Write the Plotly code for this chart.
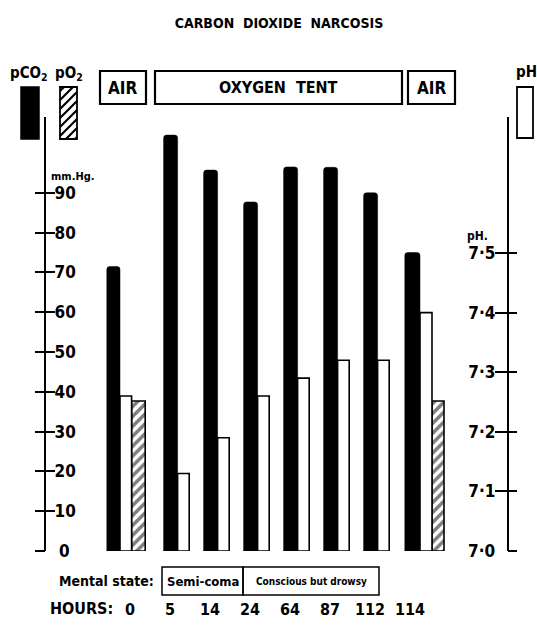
import plotly.graph_objects as go

# ---------------- data ----------------
hours = ["0", "5", "14", "24", "64", "87", "112", "114"]
pco2_mmhg = [71.5, 104.5, 95.7, 87.7, 96.5, 96.4, 90.0, 75.0]
ph_values = [7.26, 7.13, 7.19, 7.26, 7.29, 7.32, 7.32, 7.40]
po2_mmhg = [37.7, None, None, None, None, None, None, 37.7]
mmhg_ticks = [0, 10, 20, 30, 40, 50, 60, 70, 80, 90]
ph_ticks = [7.0, 7.1, 7.2, 7.3, 7.4, 7.5]
ph_ticklabels = ["7·0", "7·1", "7·2", "7·3", "7·4", "7·5"]
mental_states = ["Semi-coma", "Conscious but drowsy"]
periods = ["AIR", "OXYGEN  TENT", "AIR"]

# ---------------- geometry / style ----------------
W, H = 537, 629
L, R, T, B = 46, 507, 117, 551   # plot area in page pixels
PW, PH = R - L, B - T
XR = [-2.3, 9.225]
Y1R = [0, PH / 3.98]
Y2R = [7.0, 7.0 + PH / 596.0]
FONT = "DejaVu Sans Condensed, Liberation Sans Narrow, DejaVu Sans, sans-serif"


def px(x):
    return (x - L) / PW


def py(y):
    return (B - y) / PH


fig = go.Figure()

# pH bars (white, right axis)
fig.add_trace(go.Bar(
    x=hours, y=[v - 7.0 for v in ph_values], base=7.0, yaxis="y2",
    offset=[-0.45] + [-0.01] * 6 + [0.05],
    width=[0.29] + [0.29] * 6 + [0.3],
    marker=dict(color="white", line=dict(color="black", width=1.6)),
    hoverinfo="skip", showlegend=False))

# pO2 bars (hatched, left axis)
fig.add_trace(go.Bar(
    x=hours, y=po2_mmhg, yaxis="y",
    offset=[-0.16] + [0] * 6 + [0.35],
    width=[0.34] + [0.3] * 6 + [0.3],
    marker=dict(color="white", line=dict(color="black", width=1.6),
                pattern=dict(shape="/", fgcolor="black", bgcolor="white",
                             size=7, solidity=0.5)),
    hoverinfo="skip", showlegend=False))

# pCO2 bars (black, left axis)
fig.add_trace(go.Bar(
    x=hours, y=pco2_mmhg, yaxis="y",
    offset=[-0.78] + [-0.36] * 6 + [-0.33],
    width=[0.33] + [0.35] * 6 + [0.38],
    marker=dict(color="black", line=dict(color="black", width=0.5), cornerradius=3),
    hoverinfo="skip", showlegend=False))

# dummy traces so the tick-only overlay axes render
fig.add_trace(go.Scatter(x=[hours[0]], y=[None], yaxis="y3", showlegend=False, hoverinfo="skip"))
fig.add_trace(go.Scatter(x=[hours[0]], y=[None], yaxis="y4", showlegend=False, hoverinfo="skip"))

tickfont = dict(family=FONT, size=17, color="black", weight="bold")

fig.update_layout(
    width=W, height=H,
    margin=dict(l=L, r=W - R, t=T, b=H - B, autoexpand=False),
    paper_bgcolor="white", plot_bgcolor="white",
    barmode="overlay", showlegend=False,
    title=dict(text="CARBON  DIOXIDE  NARCOSIS", x=279 / W, xanchor="center",
               y=1 - 23 / H, yanchor="middle", yref="container",
               font=dict(family=FONT, size=14, color="black", weight="bold")),
    xaxis=dict(type="category", categoryorder="array", categoryarray=hours,
               range=XR, showline=False, showgrid=False, zeroline=False, ticks="",
               tickfont=dict(family=FONT, size=16, color="black", weight="bold"),
               ticklabelstandoff=47, ticklabelshift=-8),
    yaxis=dict(range=Y1R, tickvals=mmhg_ticks, ticks="inside", ticklen=9, tickwidth=2,
               tickcolor="black", ticklabelposition="inside", showline=True,
               linewidth=2, linecolor="black", showgrid=False, zeroline=False,
               tickfont=tickfont),
    yaxis3=dict(range=Y1R, overlaying="y", side="left", anchor="x",
                tickvals=mmhg_ticks, ticks="outside", ticklen=10, tickwidth=2,
                tickcolor="black", showticklabels=False, showline=False,
                showgrid=False, zeroline=False),
    yaxis2=dict(range=Y2R, overlaying="y", side="right", anchor="x",
                tickvals=ph_ticks, ticktext=ph_ticklabels, ticks="inside", ticklen=12,
                tickwidth=2, tickcolor="black", ticklabelposition="inside",
                showline=True, linewidth=2, linecolor="black", showgrid=False,
                zeroline=False, tickfont=tickfont),
    yaxis4=dict(range=Y2R, overlaying="y", side="right", anchor="x",
                tickvals=ph_ticks, ticks="outside", ticklen=9, tickwidth=2,
                tickcolor="black", showticklabels=False, showline=False,
                showgrid=False, zeroline=False),
)

shapes = []
ann = []


def note(x, y, text, size, weight="bold", xref="paper", yref="paper", xanchor="center"):
    ann.append(dict(x=x, y=y, xref=xref, yref=yref, text=text, showarrow=False,
                    xanchor=xanchor, yanchor="middle",
                    font=dict(family=FONT, size=size, color="black", weight=weight)))


# period boxes (AIR / OXYGEN TENT / AIR) positioned over the categories
period_spans = [(-0.95, 0.2), (0.425, 6.6), (6.75, 7.925)]
for (a, b), label in zip(period_spans, periods):
    shapes.append(dict(type="rect", xref="x", yref="paper", x0=a, x1=b,
                       y0=py(104), y1=py(71), line=dict(color="black", width=2.2)))
    note((a + b) / 2, py(88), label, 17 if label == "AIR" else 16,
         weight="bold", xref="x")

# mental state boxes
state_spans = [(0.6, 2.625), (2.625, 6.025)]
for (a, b), label in zip(state_spans, mental_states):
    shapes.append(dict(type="rect", xref="x", yref="paper", x0=a, x1=b,
                       y0=py(595), y1=py(567), line=dict(color="black", width=1.5)))
    note((a + b) / 2, py(581), label, 13 if label == "Semi-coma" else 10, xref="x")

note(px(156), py(581), "Mental state:", 14, xanchor="right")
note(px(115), py(608), "HOURS:", 16, xanchor="right")
note(px(49), py(176), "mm.Hg.", 11, xanchor="left")
note(px(490), py(236), "pH.", 12, xanchor="right")

# bottom tick labels that sit on the plot edge
note(px(57), 0, str(mmhg_ticks[0]), 17, yref="y", xanchor="left")
note(px(497), ph_ticks[0], ph_ticklabels[0], 17, yref="y2", xanchor="right")

# legend swatches
leg_top, leg_bot = 87, 139
shapes.append(dict(type="rect", xref="paper", yref="paper", x0=px(21), x1=px(39),
                   y0=py(leg_bot), y1=py(leg_top), fillcolor="black",
                   line=dict(color="black", width=1.5)))
hx0, hx1 = 60, 77
shapes.append(dict(type="rect", xref="paper", yref="paper", x0=px(hx0), x1=px(hx1),
                   y0=py(leg_bot), y1=py(leg_top), fillcolor="white",
                   line=dict(color="black", width=1.8)))
path = ""
c = hx0 + leg_top + 4
while c < hx1 + leg_bot:
    xa = max(hx0, c - leg_bot)
    xb = min(hx1, c - leg_top)
    if xb > xa:
        path += "M{:.5f},{:.5f} L{:.5f},{:.5f} ".format(px(xa), py(c - xa), px(xb), py(c - xb))
    c += 9
shapes.append(dict(type="path", xref="paper", yref="paper", path=path,
                   line=dict(color="black", width=2.2)))
shapes.append(dict(type="rect", xref="paper", yref="paper", x0=px(517), x1=px(533),
                   y0=py(138), y1=py(87), fillcolor="white",
                   line=dict(color="black", width=1.8)))
for xc, yc, txt in [(29, 74, "pCO<sub>2</sub>"), (69, 74, "pO<sub>2</sub>"), (526, 72, "pH")]:
    note(px(xc), py(yc), txt, 15)

fig.update_layout(shapes=shapes, annotations=ann)
# remove the default 8px page margin so the figure fills the window exactly
fig.write_html("out.html", config={"displayModeBar": False},
               post_script="document.body.style.margin='0px';document.body.style.overflow='hidden';")
